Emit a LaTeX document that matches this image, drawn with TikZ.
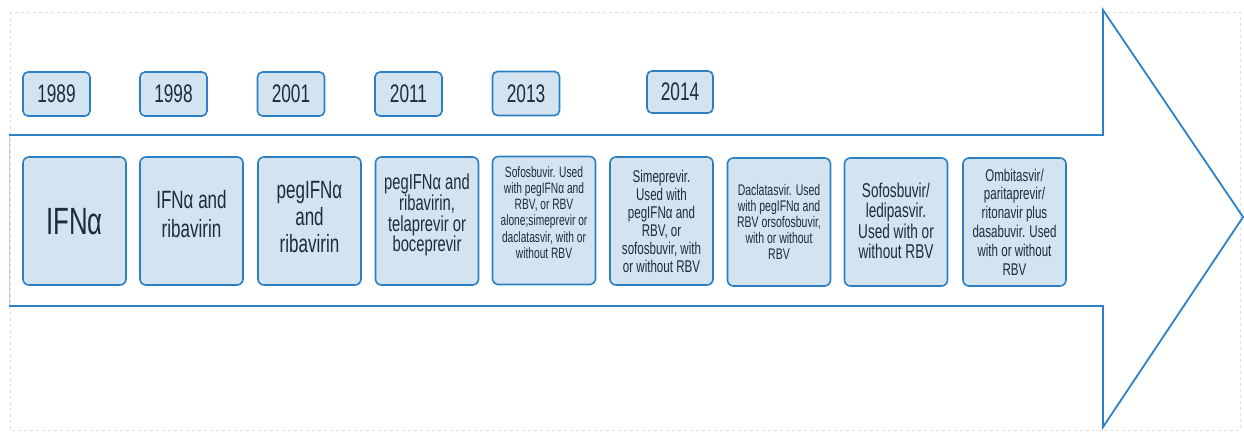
\documentclass[tikz,border=0pt]{standalone}
\usepackage{fontspec}
\setmainfont[FakeStretch=0.68]{Liberation Sans}
\definecolor{boxfill}{HTML}{D3E3F0}
\definecolor{boxline}{HTML}{2A80C4}
\definecolor{txt}{HTML}{1E2B3C}
\definecolor{arrowline}{HTML}{2C82C6}
\begin{document}
\begin{tikzpicture}[x=1pt,y=-1pt,
  yearbox/.style={draw=boxline,line width=1.6pt,fill=boxfill,rounded corners=5pt,
    minimum width=67pt,minimum height=44pt,inner sep=0pt,text=txt,font=\fontsize{25.4}{28}\selectfont},
  drugbox/.style={draw=boxline,line width=1.6pt,fill=boxfill,rounded corners=6pt,
    minimum width=103pt,minimum height=128pt,inner sep=0pt},
  drugtext/.style={inner sep=0pt,text=txt,align=center}]
\useasboundingbox (0,0) rectangle (1244,432);
% faint page border
\draw[black!12,dashed,line width=0.4pt] (10,12) rectangle (1240,430);
% arrow outline
\coordinate (s1) at (9,135);
\coordinate (h1) at (1103,135);
\coordinate (h2) at (1103,10);
\coordinate (tip) at (1243,217);
\coordinate (h3) at (1103,427);
\coordinate (h4) at (1103,306);
\coordinate (s2) at (9,306);
\draw[arrowline!35,line width=1pt] (s1) -- (s2);
\draw[arrowline,line width=1.8pt,line join=miter] (s1) -- (h1) -- (h2) -- (tip) -- (h3) -- (h4) -- (s2);
% year boxes
\node[yearbox] (y1) at (56.5,94) {1989};
\node[yearbox] (y2) at (173.5,94) {1998};
\node[yearbox] (y3) at (291,94) {2001};
\node[yearbox] (y4) at (408.5,94) {2011};
\node[yearbox] (y5) at (526,93.5) {2013};
\node[yearbox,minimum height=42pt,minimum width=66pt] (y6) at (680,92) {2014};
% drug boxes
\node[drugbox] (d1) at (74.5,221) {};
\node[drugbox] (d2) at (191.5,221) {};
\node[drugbox] (d3) at (309.5,221) {};
\node[drugbox] (d4) at (427,221) {};
\node[drugbox] (d5) at (544,220.5) {};
\node[drugbox] (d6) at (661.5,221) {};
\node[drugbox] (d7) at (779,222) {};
\node[drugbox] (d8) at (896,222) {};
\node[drugbox] (d9) at (1014.5,222) {};
% texts
\node[drugtext,font=\fontsize{38}{40}\selectfont] (t1) at ([yshift=-1pt]d1.center) {IFNα};
\node[drugtext,font=\fontsize{25}{28.4}\selectfont] (t2) at ([yshift=7pt]d2.center) {IFNα and\\ribavirin};
\node[drugtext,font=\fontsize{25}{27}\selectfont] (t3) at ([yshift=4pt]d3.center) {pegIFNα\\and\\ribavirin};
\node[drugtext,font=\fontsize{21.7}{20.9}\selectfont] (t4) at ([yshift=6pt]d4.center) {pegIFNα and\\ribavirin,\\telaprevir or\\boceprevir};
\node[drugtext,font=\fontsize{15}{16.2}\selectfont] (t5) at ([yshift=8pt]d5.center) {Sofosbuvir. Used\\with pegIFNα and\\RBV, or RBV\\alone;simeprevir or\\daclatasvir, with or\\without RBV};
\node[drugtext,font=\fontsize{17}{18}\selectfont] (t6) at (d6.center) {Simeprevir.\\Used with\\pegIFNα and\\RBV, or\\sofosbuvir, with\\or without RBV};
\node[drugtext,font=\fontsize{15.4}{16.2}\selectfont] (t7) at (d7.center) {Daclatasvir. Used\\with pegIFNα and\\RBV orsofosbuvir,\\with or without\\RBV};
\node[drugtext,font=\fontsize{20}{20.5}\selectfont] (t8) at ([yshift=1pt]d8.center) {Sofosbuvir/\\ledipasvir.\\Used with or\\without RBV};
\node[drugtext,font=\fontsize{17}{18.8}\selectfont] (t9) at (d9.center) {Ombitasvir/\\paritaprevir/\\ritonavir plus\\dasabuvir. Used\\with or without\\RBV};
\end{tikzpicture}
\end{document}
